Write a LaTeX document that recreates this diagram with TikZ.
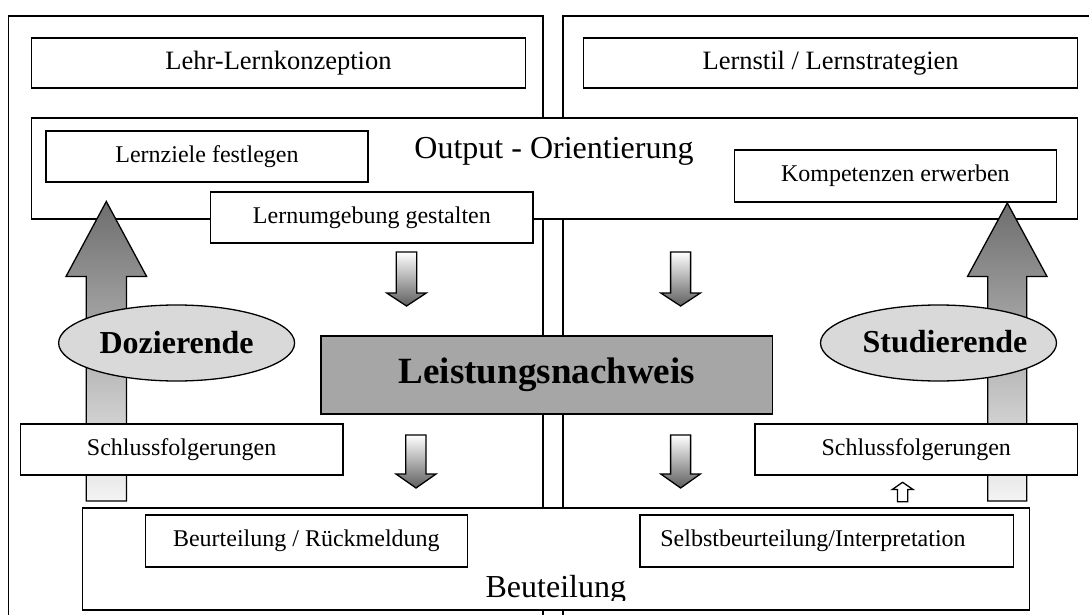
\documentclass[tikz,border=0pt]{standalone}
\usepackage{fontspec}
\setmainfont{Liberation Serif}
\usetikzlibrary{shapes.geometric}
\definecolor{ellgray}{HTML}{D9D9D9}
\definecolor{leistgray}{HTML}{A6A6A6}
\definecolor{arrtop}{HTML}{6E6E6E}
\definecolor{arrbot}{HTML}{F4F4F4}
\definecolor{sarrbot}{HTML}{5F5F5F}
\begin{document}
\begin{tikzpicture}[x=1pt,y=-1pt,
  frame/.style={draw,line width=1.6pt},
  bx/.style={draw,fill=white,line width=1.3pt,inner sep=0pt,font=\fontsize{24}{28}\selectfont},
  bxl/.style={bx,font=\fontsize{26.5}{30}\selectfont},
  ell/.style={ellipse,draw,fill=ellgray,line width=1.3pt,inner sep=0pt,minimum width=236pt,minimum height=76pt,font=\bfseries\fontsize{32}{36}\selectfont},
  bigarr/.style={draw,line width=1.3pt,top color=arrtop,bottom color=arrbot},
  smallarr/.style={draw,line width=1.3pt,top color=white,bottom color=sarrbot},
  hollowarr/.style={draw,fill=white,line width=1.3pt,line join=miter},
  bigtext/.style={font=\fontsize{32}{36}\selectfont,anchor=base,inner sep=0pt},
  plaintext/.style={font=\fontsize{24}{28}\selectfont,inner sep=0pt}
]
\useasboundingbox (0,0) rectangle (1089,615);
\clip (0,0) rectangle (1089,615);
\fill[white] (0,0) rectangle (1089,615);

% frames
\draw[frame] (8.4,16) rectangle (543,700);
\draw[frame] (563,16) rectangle (1120,700);

% top boxes
\node[bxl,minimum width=493.8pt,minimum height=50pt] (lehr) at (278.5,63) {Lehr-Lernkonzeption};
\node[bxl,minimum width=493.7pt,minimum height=50pt] (lernstil) at (830.65,63) {Lernstil / Lernstrategien};

% output box
\node[bx,minimum width=1045.9pt,minimum height=101pt] (output) at (554.55,168.5) {};
\node[bigtext] (outtext) at (554,158) {Output - Orientierung};
\node[bx,minimum width=322pt,minimum height=51pt] (lernziele) at (207,156.5) {Lernziele festlegen};
\node[bx,minimum width=322.1pt,minimum height=52pt] (komp) at (895.35,176) {Kompetenzen erwerben};

% big arrows
\draw[bigarr] (86.2,501) -- (86.2,276.5) -- (66,276.5) -- (106.3,201.5) -- (146.6,276.5) -- (126.4,276.5) -- (126.4,501) -- cycle;
\draw[bigarr] (987.8,501) -- (987.8,276.5) -- (967.5,276.5) -- (1007.3,203) -- (1047,276.5) -- (1026.8,276.5) -- (1026.8,501) -- cycle;

\node[bx,minimum width=322.2pt,minimum height=51pt] (lernumg) at (371.9,217.5) {Lernumgebung gestalten};

% small down arrows
\draw[smallarr] (396.3,252) -- (416.7,252) -- (416.7,293) -- (426.3,293) -- (406.5,306) -- (386.7,293) -- (396.3,293) -- cycle;
\draw[smallarr] (670.6,252) -- (690.6,252) -- (690.6,293) -- (700.4,293) -- (680.6,306) -- (660.8,293) -- (670.6,293) -- cycle;
\draw[smallarr] (405.8,435) -- (426,435) -- (426,474) -- (436,474) -- (416,488) -- (396,474) -- (405.8,474) -- cycle;
\draw[smallarr] (670.6,435) -- (690.6,435) -- (690.6,474) -- (700.4,474) -- (680.6,488) -- (660.8,474) -- (670.6,474) -- cycle;

% ellipses
\node[ell] (doz) at (176.6,343) {Dozierende};
\node[ell] (stud) at (938.5,343) {};
\node[font=\bfseries\fontsize{32}{36}\selectfont,inner sep=0pt] (studtext) at (945,342) {Studierende};

% Schlussfolgerungen
\node[bx,minimum width=322.7pt,minimum height=51pt] (schlL) at (181.65,449.5) {Schlussfolgerungen};
\node[bx,minimum width=322.5pt,minimum height=51pt] (schlR) at (916.25,449.5) {Schlussfolgerungen};

% Leistungsnachweis
\node[bx,fill=leistgray,minimum width=451.8pt,minimum height=78pt,font=\bfseries\fontsize{37}{42}\selectfont] (leist) at (546.9,375) {Leistungsnachweis};

% Beuteilung
\node[bx,minimum width=946.7pt,minimum height=102pt] (beut) at (556.15,559) {};
\begin{scope}
\clip (0,0) rectangle (1089,600.5);
\node[bigtext] (beuttext) at (555.8,597) {Beuteilung};
\end{scope}
\node[bx,minimum width=322.3pt,minimum height=52pt] (beurt) at (306.35,541) {Beurteilung / Rückmeldung};
\node[bx,minimum width=373.7pt,minimum height=52pt] (selbst) at (826.85,541) {};
\node[plaintext] (selbsttext) at (813,541) {Selbstbeurteilung/Interpretation};

% small hollow arrow
\draw[hollowarr] (897.5,501.7) -- (897.5,489.5) -- (892.3,489.5) -- (902.6,482.3) -- (913,489.5) -- (907.7,489.5) -- (907.7,501.7) -- cycle;
\end{tikzpicture}
\end{document}
